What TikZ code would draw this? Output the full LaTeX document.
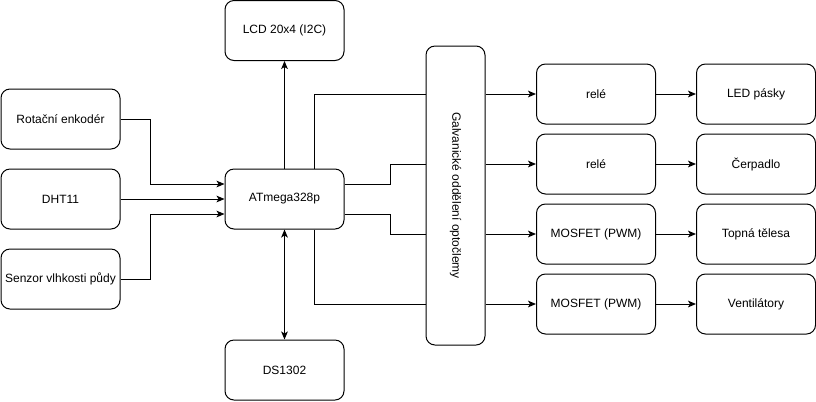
\documentclass[tikz,border=0pt]{standalone}
\usepackage{fontspec}
\setmainfont{Liberation Sans}
\usetikzlibrary{arrows.meta}

\tikzset{
  blok/.style={draw, line width=0.75pt, rounded corners=6.75pt, minimum width=89.25pt, minimum height=45pt, inner sep=0pt, align=center, font=\fontsize{9pt}{11pt}\selectfont},
  spoj/.style={line width=0.75pt},
  sipka/.style={spoj, -{Stealth[length=6pt,width=5pt,inset=1.5pt]}},
  dvesipky/.style={spoj, {Stealth[length=6pt,width=5pt,inset=1.5pt]}-{Stealth[length=6pt,width=5pt,inset=1.5pt]}}
}

\begin{document}
\begin{tikzpicture}[x=0.75pt,y=0.75pt,yscale=-1,xscale=1]
\useasboundingbox (0,0) rectangle (816,401);

% vstupy
\node[blok] (rot) at (60.5,119) {Rotační enkodér};
\node[blok] (dht) at (60.5,199) {DHT11};
\node[blok] (sen) at (60.5,279) {Senzor vlhkosti půdy};

% procesor
\node[blok] (atm) at (284.5,199) {ATmega328p};
\node[blok] (lcd) at (284.5,30.5) {LCD 20x4 (I2C)};
\node[blok] (ds) at (284.5,370) {DS1302};

% oddeleni
\node[blok, minimum width=44.25pt, minimum height=224.25pt] (opto) at (455.5,195.5) {};
\node[rotate=-90, font=\fontsize{9pt}{11pt}\selectfont] (optotxt) at (opto.center) {Galvanické oddělení optočlemy};

% spinace
\node[blok] (rel1) at (596,94) {relé};
\node[blok] (rel2) at (596,164) {relé};
\node[blok] (mos1) at (596,234) {MOSFET (PWM)};
\node[blok] (mos2) at (596,304) {MOSFET (PWM)};

% zatez
\node[blok] (led) at (756,94) {LED pásky};
\node[blok] (cer) at (756,164) {Čerpadlo};
\node[blok] (top) at (756,234) {Topná tělesa};
\node[blok] (ven) at (756,304) {Ventilátory};

% vstupy -> procesor
\draw[sipka] (rot.east) -- ++(30,0) |- ([yshift=-11.25pt]atm.west);
\draw[sipka] (dht.east) -- (atm.west);
\draw[sipka] (sen.east) -- ++(30,0) |- ([yshift=11.25pt]atm.west);

% procesor <-> periferie
\draw[sipka] (atm.north) -- (lcd.south);
\draw[dvesipky] (ds.north) -- (atm.south);

% procesor -> oddeleni
\draw[spoj] ([xshift=22.5pt]atm.north) |- (opto.west |- rel1);
\draw[spoj] ([yshift=-11.25pt]atm.east) -- ++(46,0) |- (opto.west |- rel2);
\draw[spoj] ([yshift=11.25pt]atm.east) -- ++(46,0) |- (opto.west |- mos1);
\draw[spoj] ([xshift=22.5pt]atm.south) |- (opto.west |- mos2);

% oddeleni -> spinace
\draw[sipka] (opto.east |- rel1) -- (rel1.west);
\draw[sipka] (opto.east |- rel2) -- (rel2.west);
\draw[sipka] (opto.east |- mos1) -- (mos1.west);
\draw[sipka] (opto.east |- mos2) -- (mos2.west);

% spinace -> zatez
\draw[sipka] (rel1) -- (led);
\draw[sipka] (rel2) -- (cer);
\draw[sipka] (mos1) -- (top);
\draw[sipka] (mos2) -- (ven);

\end{tikzpicture}
\end{document}
